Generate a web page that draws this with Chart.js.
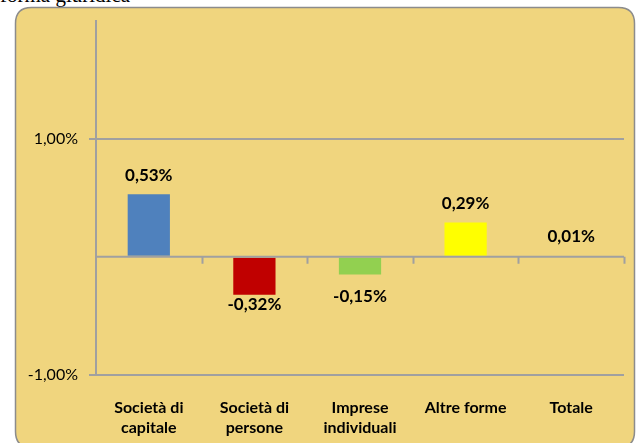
<!DOCTYPE html>
<html>
<head>
<meta charset="utf-8">
<script src="https://cdn.jsdelivr.net/npm/chart.js@4.4.1/dist/chart.umd.min.js"></script>
<style>
  html, body { margin: 0; padding: 0; background: #fff; }
  body { width: 637px; height: 443px; position: relative; overflow: hidden; }
  #title { position: absolute; left: 0px; top: -17px; font: 21px "Liberation Serif", serif; color: #000; }
  #wrap { position: absolute; left: 0; top: 0; width: 637px; height: 443px; }
</style>
</head>
<body>
<div id="title">forma giuridica</div>
<div id="wrap"><canvas id="myChart" width="637" height="443"></canvas></div>
<script>
var labels = [
	["Società di", "capitale"],
	["Società di", "persone"],
	["Imprese", "individuali"],
	"Altre forme",
	"Totale"
];
var values = [0.53, -0.32, -0.15, 0.29, 0.01];
var colors = ["#4F81BD", "#C00000", "#92D050", "#FFFF00", "#4F6F9F"];
var yTicksShown = [-1, 1];

var fontName = "Lato, 'Open Sans', sans-serif";

function fmt(v) {
	return v.toFixed(2).replace(".", ",") + "%";
}

// background box with rounded corners
var boxPlugin = {
	id: "box",
	beforeDraw: function(chart) {
		var c = chart.ctx;
		var x = 15.5, y = 7.5, w = 619, h = 440, r = 16;
		c.save();
		c.beginPath();
		c.moveTo(x + r, y);
		c.lineTo(x + w - r, y);
		c.quadraticCurveTo(x + w, y, x + w, y + r);
		c.lineTo(x + w, y + h - r);
		c.quadraticCurveTo(x + w, y + h, x + w - r, y + h);
		c.lineTo(x + r, y + h);
		c.quadraticCurveTo(x, y + h, x, y + h - r);
		c.lineTo(x, y + r);
		c.quadraticCurveTo(x, y, x + r, y);
		c.closePath();
		c.fillStyle = "#F0D57E";
		c.fill();
		c.lineWidth = 1.5;
		c.strokeStyle = "#8C8C8C";
		c.stroke();
		c.restore();
	}
};

// zero line ticks + value labels
var labelPlugin = {
	id: "vals",
	afterDatasetsDraw: function(chart) {
		var c = chart.ctx;
		var ys = chart.scales.y;
		var zero = ys.getPixelForValue(0);
		var area = chart.chartArea;
		c.save();
		c.strokeStyle = "#A0A0A0";
		c.lineWidth = 2;
		c.beginPath();
		c.moveTo(area.left, zero);
		c.lineTo(area.right, zero);
		var n = labels.length;
		for (var i = 1; i <= n; i++) {
			var bx = Math.round(area.left + i * (area.right - area.left) / n) + 0.5;
			c.moveTo(bx, zero);
			c.lineTo(bx, zero + 7);
		}
		c.stroke();

		c.font = "bold 17px " + fontName;
		c.fillStyle = "#000";
		c.textAlign = "center";
		c.textBaseline = "middle";
		chart.getDatasetMeta(0).data.forEach(function(bar, i) {
			var v = values[i];
			var ty;
			if (v >= 0) {
				ty = bar.y - 19;
			} else {
				ty = Math.max(bar.y + 10, zero + 40);
			}
			c.fillText(fmt(v), bar.x, ty);
		});
		c.restore();
	}
};

var ctx = document.getElementById("myChart");
var myChart = new Chart(ctx, {
	type: "bar",
	data: {
		labels: labels,
		datasets: [{
			data: values,
			backgroundColor: colors,
			borderWidth: 0,
			barPercentage: 0.4,
			categoryPercentage: 1
		}]
	},
	options: {
		responsive: false,
		animation: false,
		layout: { padding: { left: 0, top: 19, right: 13, bottom: 0 } },
		plugins: { legend: { display: false }, tooltip: { enabled: false } },
		scales: {
			x: {
				grid: { display: false },
				border: { display: false },
				ticks: {
					color: "#000",
					font: { family: fontName, size: 16, weight: "bold", lineHeight: 1.25 },
					padding: 15,
					maxRotation: 0,
					autoSkip: false
				},
				afterFit: function(s) { s.height = 68; }
			},
			y: {
				min: -1,
				max: 2,
				afterBuildTicks: function(s) {
					s.ticks = [-1, 0, 1, 2].map(function(v) { return { value: v }; });
				},
				grid: {
					color: function(c) {
						var v = c.tick ? c.tick.value : null;
						return (v === -1 || v === 1) ? "#A0A0A0" : "rgba(0,0,0,0)";
					},
					lineWidth: 2,
					tickLength: 7
				},
				border: { display: true, color: "#A0A0A0", width: 2 },
				ticks: {
					color: "#000",
					padding: 11,
					font: { family: fontName, size: 16 },
					callback: function(v) {
						return yTicksShown.indexOf(v) >= 0 ? fmt(v) : "";
					}
				},
				afterFit: function(s) { s.width = 96; }
			}
		}
	},
	plugins: [boxPlugin, labelPlugin]
});
</script>
</body>
</html>
